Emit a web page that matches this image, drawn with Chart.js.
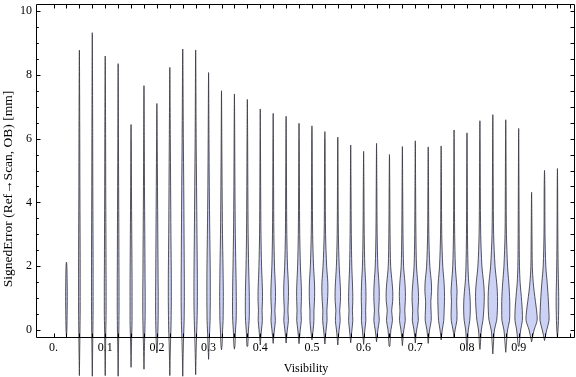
<!DOCTYPE html>
<html>
<head>
<meta charset="utf-8">
<script src="https://cdn.jsdelivr.net/npm/chart.js@4.4.0/dist/chart.umd.min.js"></script>
<style>
  html, body { margin: 0; padding: 0; background: #fff; }
  #chart { display: block; }
</style>
</head>
<body>
<canvas id="chart" width="576" height="377"></canvas>
<script>
// violin centres (Visibility bins)
var positions = [0.025, 0.05, 0.075, 0.1, 0.125, 0.15, 0.175, 0.2, 0.225, 0.25,
  0.275, 0.3, 0.325, 0.35, 0.375, 0.4, 0.425, 0.45, 0.475, 0.5,
  0.525, 0.55, 0.575, 0.6, 0.625, 0.65, 0.675, 0.7, 0.725, 0.75,
  0.775, 0.8, 0.825, 0.85, 0.875, 0.9, 0.925, 0.95, 0.975];

// lowest / highest signed error in each bin [mm]
var minValues = [-0.2, -1.43, -1.45, -1.43, -1.45, -1.17, -1.23, -0.72, -1.43, -1.45,
  -1.4, -0.92, -0.62, -0.6, -0.52, -0.47, -0.42, -0.41, -0.43, -0.31,
  -0.44, -0.47, -0.4, -0.45, -0.37, -0.52, -0.49, -0.41, -0.42, -0.31,
  -0.22, -0.62, -0.61, -0.75, -0.7, -0.52, -0.37, -0.33, -0.22];
var maxValues = [2.13, 8.77, 9.32, 8.59, 8.35, 6.44, 7.66, 7.1, 8.23, 8.81,
  8.78, 8.07, 7.5, 7.4, 7.23, 6.93, 6.79, 6.7, 6.48, 6.4,
  6.22, 6.05, 5.8, 5.6, 5.85, 5.5, 5.75, 5.93, 5.74, 5.77,
  6.27, 6.18, 6.56, 6.75, 6.59, 6.32, 4.32, 5.0, 5.06];

// density (violin half width) read at these error levels
var densityLevels = [-0.5, 0, 0.3, 0.6, 0.9, 1.2, 1.5, 2, 3, 4.5, 6];
var densities = [
  [0, 0.4, 0.6, 0.7, 0.8, 0.8, 0.7, 0.4, 0, 0, 0],
  [0.4, 0.6, 0.7, 0.8, 0.8, 0.8, 0.8, 0.8, 0.7, 0.5, 0.4],
  [0.4, 0.6, 0.7, 0.8, 0.8, 0.8, 0.8, 0.8, 0.7, 0.5, 0.4],
  [0.4, 0.6, 0.8, 0.9, 0.9, 0.9, 0.9, 0.8, 0.7, 0.5, 0.4],
  [0.4, 0.7, 0.8, 0.9, 0.9, 0.9, 0.9, 0.8, 0.7, 0.5, 0.3],
  [0.4, 0.8, 1.0, 1.0, 1.0, 1.0, 1.0, 0.9, 0.7, 0.4, 0.2],
  [0.5, 0.9, 1.1, 1.2, 1.2, 1.2, 1.1, 1.0, 0.8, 0.5, 0.3],
  [0.5, 1.0, 1.2, 1.3, 1.3, 1.3, 1.2, 1.1, 0.9, 0.6, 0.3],
  [0.6, 1.1, 1.3, 1.4, 1.5, 1.5, 1.5, 1.4, 1.1, 0.8, 0.5],
  [0.6, 1.1, 1.4, 1.5, 1.6, 1.6, 1.6, 1.5, 1.3, 1.0, 0.6],
  [0.6, 1.1, 1.4, 1.6, 1.7, 1.7, 1.7, 1.6, 1.3, 0.9, 0.5],
  [0.5, 1.1, 1.5, 1.6, 1.7, 1.7, 1.7, 1.6, 1.2, 0.7, 0.4],
  [0.5, 1.1, 1.6, 1.7, 1.8, 1.8, 1.7, 1.5, 1.0, 0.6, 0.3],
  [0.5, 1.1, 1.7, 1.9, 1.9, 1.8, 1.7, 1.4, 0.9, 0.5, 0.3],
  [0.4, 1.1, 1.8, 2.0, 2.0, 1.9, 1.7, 1.3, 0.8, 0.5, 0.3],
  [0.4, 1.2, 2.1, 1.8, 2.2, 2.2, 1.9, 1.3, 0.7, 0.4, 0.2],
  [0.4, 1.2, 2.2, 1.7, 2.2, 2.3, 2.0, 1.3, 0.7, 0.4, 0.2],
  [0.4, 1.2, 2.3, 1.8, 2.2, 2.4, 2.2, 1.4, 0.7, 0.4, 0.2],
  [0.4, 1.2, 2.3, 2.0, 2.3, 2.4, 2.1, 1.4, 0.7, 0.4, 0.2],
  [0.4, 1.2, 2.0, 2.0, 2.5, 2.7, 2.5, 1.6, 0.7, 0.4, 0.2],
  [0.4, 1.2, 2.2, 2.0, 2.6, 3.0, 2.9, 1.8, 0.7, 0.4, 0.2],
  [0.4, 1.3, 2.4, 1.9, 2.6, 2.7, 2.3, 1.4, 0.6, 0.3, 0.1],
  [0.4, 1.2, 2.1, 1.7, 2.1, 2.0, 1.7, 1.1, 0.6, 0.3, 0.1],
  [0.4, 1.2, 2.2, 2.0, 2.3, 2.3, 2.0, 1.2, 0.6, 0.3, 0.1],
  [0.4, 1.3, 2.7, 2.1, 2.6, 2.7, 2.3, 1.3, 0.6, 0.3, 0.1],
  [0.4, 1.4, 3.0, 2.2, 3.2, 3.3, 2.6, 1.2, 0.6, 0.3, 0],
  [0.4, 1.4, 2.9, 2.4, 2.9, 3.0, 2.5, 1.2, 0.6, 0.3, 0],
  [0.4, 1.3, 3.0, 2.6, 3.2, 3.1, 2.4, 1.2, 0.6, 0.3, 0],
  [0.4, 1.3, 3.0, 2.8, 2.6, 3.3, 3.1, 1.6, 0.6, 0.3, 0],
  [0.3, 1.1, 2.6, 3.0, 3.3, 3.3, 2.9, 1.6, 0.6, 0.3, 0],
  [0.3, 1.0, 2.8, 2.9, 2.6, 3.0, 2.4, 1.3, 0.6, 0.3, 0.1],
  [0.4, 1.3, 2.8, 3.3, 3.2, 2.6, 1.7, 1.0, 0.5, 0.3, 0.1],
  [0.4, 1.4, 3.0, 3.8, 4.3, 4.3, 3.6, 2.0, 0.8, 0.4, 0.2],
  [0.5, 1.6, 3.8, 4.5, 4.7, 4.5, 3.8, 2.2, 0.8, 0.4, 0.2],
  [0.5, 1.8, 3.8, 4.0, 4.0, 3.6, 3.0, 1.8, 0.7, 0.4, 0.2],
  [0.4, 2.0, 3.7, 3.6, 3.0, 2.2, 1.4, 0.8, 0.5, 0.3, 0.1],
  [0.3, 2.5, 5.5, 5.0, 3.8, 2.6, 1.6, 0.7, 0.4, 0, 0],
  [0.3, 2.2, 4.5, 4.3, 3.9, 3.3, 2.6, 1.3, 0.5, 0.3, 0],
  [0, 0.6, 1.0, 1.2, 1.3, 1.2, 1.0, 0.7, 0.4, 0.2, 0.1]
];

var xTickValues = [0, 0.1, 0.2, 0.3, 0.4, 0.5, 0.6, 0.7, 0.8, 0.9];
var xTickLabels = ['0.', '0.1', '0.2', '0.3', '0.4', '0.5', '0.6', '0.7', '0.8', '0.9'];
var yTickValues = [0, 2, 4, 6, 8, 10];
var yTickLabels = ['0', '2', '4', '6', '8', '10'];
var xTitle = 'Visibility';
var yTitle = 'SignedError (Ref\u2192Scan, OB) [mm]';

var WIDTH_SCALE = 0.00194; // density unit -> x units
var SERIF = "'Liberation Serif', 'DejaVu Serif', serif";

function violinPoints(i) {
  var xc = positions[i], lo = minValues[i], hi = maxValues[i], d = densities[i];
  var pts = [{ x: xc, y: lo }];
  var j;
  for (j = 0; j < densityLevels.length; j++) {
    if (densityLevels[j] > lo && densityLevels[j] < hi) pts.push({ x: xc + d[j] * WIDTH_SCALE, y: densityLevels[j] });
  }
  pts.push({ x: xc, y: hi });
  for (j = densityLevels.length - 1; j >= 0; j--) {
    if (densityLevels[j] > lo && densityLevels[j] < hi) pts.push({ x: xc - d[j] * WIDTH_SCALE, y: densityLevels[j] });
  }
  pts.push({ x: xc, y: lo });
  return pts;
}

var datasets = positions.map(function(p, i) {
  return {
    data: violinPoints(i),
    showLine: true,
    fill: 'shape',
    backgroundColor: 'rgb(204,209,246)',
    borderColor: 'rgba(55,55,65,0.85)',
    borderWidth: 1,
    pointRadius: 0,
    tension: 0.3,
    clip: false
  };
});

var framePlugin = {
  id: 'frame',
  afterDraw: function(chart) {
    var ctx = chart.ctx, a = chart.chartArea, xs = chart.scales.x, ys = chart.scales.y;
    var L = a.left - 0.5, R = a.right - 0.5, T = a.top + 0.5, B = a.bottom + 0.5;
    ctx.save();
    ctx.strokeStyle = '#000';
    ctx.lineWidth = 1;
    ctx.beginPath();
    ctx.rect(L, T, R - L, B - T);
    ctx.stroke();
    ctx.beginPath();
    var k, px, py;
    for (k = 0; k <= 40; k++) {
      px = Math.round(xs.getPixelForValue(k * 0.025)) + 0.5;
      ctx.moveTo(px, T); ctx.lineTo(px, T + 4);
      ctx.moveTo(px, B); ctx.lineTo(px, B - 4);
    }
    for (k = 0; k <= 20; k++) {
      py = Math.round(ys.getPixelForValue(k * 0.5)) + 0.5;
      var len = (k % 4 === 0) ? 4 : 2.3;
      ctx.moveTo(L, py); ctx.lineTo(L + len, py);
      ctx.moveTo(R, py); ctx.lineTo(R - 4, py);
    }
    ctx.stroke();
    // y axis title
    ctx.fillStyle = '#000';
    ctx.font = '13.5px ' + SERIF;
    ctx.textAlign = 'center';
    ctx.textBaseline = 'middle';
    ctx.translate(8, 189);
    ctx.rotate(-Math.PI / 2);
    ctx.fillText(yTitle, 0, 0);
    ctx.restore();
  }
};

new Chart(document.getElementById('chart'), {
  type: 'scatter',
  data: { datasets: datasets },
  options: {
    responsive: false,
    animation: false,
    devicePixelRatio: 1,
    layout: { padding: { top: 4, right: 1, left: 0, bottom: 0 } },
    elements: { line: { capBezierPoints: false } },
    plugins: { legend: { display: false }, tooltip: { enabled: false } },
    scales: {
      x: {
        type: 'linear',
        min: -0.032,
        max: 1.009,
        grid: { display: false, drawTicks: false },
        border: { display: false },
        afterBuildTicks: function(scale) { scale.ticks = xTickValues.map(function(v) { return { value: v }; }); },
        afterFit: function(scale) { scale.height = 40; scale.paddingLeft = 0; scale.paddingRight = 0; },
        ticks: {
          autoSkip: false, maxRotation: 0, padding: 4, color: '#000',
          font: { family: SERIF, size: 12 },
          callback: function(v, i) { return xTickLabels[i]; }
        },
        title: { display: true, text: xTitle, color: '#000', font: { family: SERIF, size: 12 }, padding: { top: 0, bottom: 1 } }
      },
      y: {
        type: 'linear',
        min: -0.22,
        max: 10.22,
        grid: { display: false, drawTicks: false },
        border: { display: false },
        afterBuildTicks: function(scale) { scale.ticks = yTickValues.map(function(v) { return { value: v }; }); },
        afterFit: function(scale) { scale.width = 37; scale.paddingTop = 0; scale.paddingBottom = 0; },
        ticks: {
          autoSkip: false, padding: 5, color: '#000',
          font: { family: SERIF, size: 12 },
          callback: function(v, i) { return yTickLabels[i]; }
        }
      }
    }
  },
  plugins: [framePlugin]
});
</script>
</body>
</html>
